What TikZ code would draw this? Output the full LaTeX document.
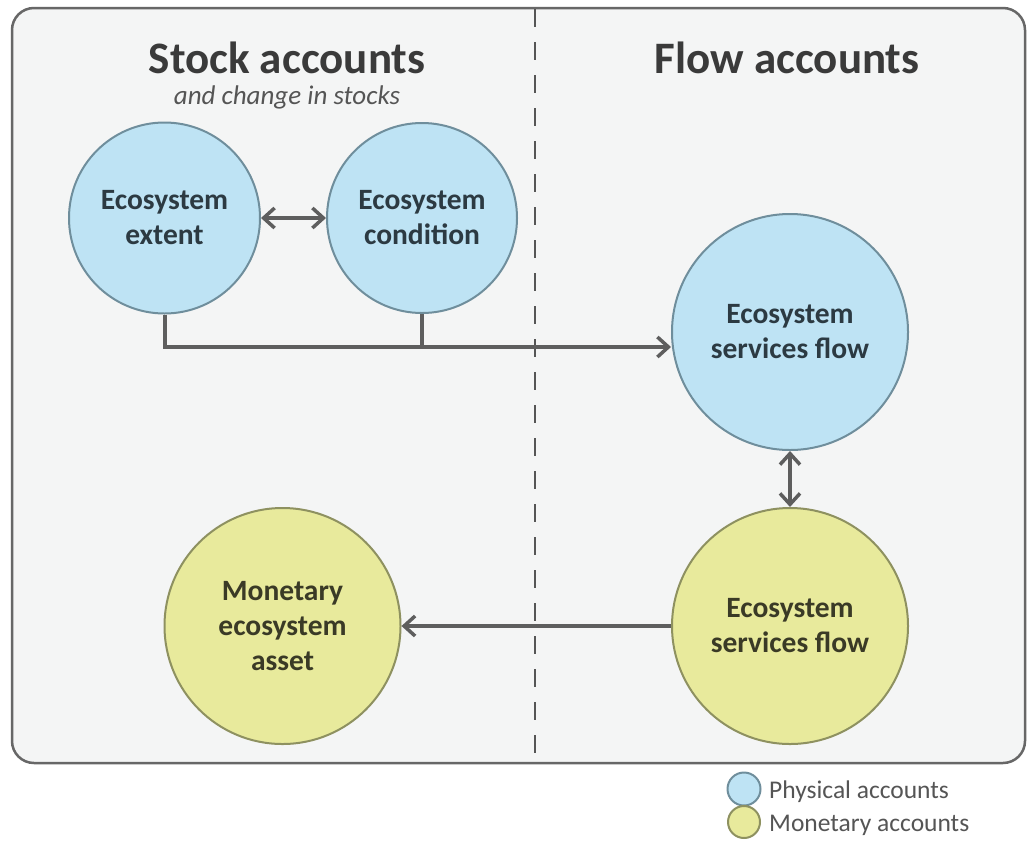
\documentclass[tikz,border=0pt]{standalone}
\usepackage{fontspec}
\setmainfont{Carlito}
\usetikzlibrary{arrows.meta}
\definecolor{boxfill}{HTML}{F4F5F5}
\definecolor{boxline}{HTML}{676767}
\definecolor{bluefill}{HTML}{BEE3F4}
\definecolor{blueline}{HTML}{6F8E9C}
\definecolor{bluetext}{HTML}{2C3A42}
\definecolor{yelfill}{HTML}{E8EA9C}
\definecolor{yelline}{HTML}{8E9160}
\definecolor{yeltext}{HTML}{3A3A26}
\definecolor{arrowcol}{HTML}{5E5E5E}
\definecolor{headcol}{HTML}{3A3A3A}
\definecolor{subcol}{HTML}{555555}
\tikzset{
  physnode/.style={circle, draw=blueline, fill=bluefill, line width=2pt, text=bluetext,
    align=center, inner sep=0pt, font=\fontsize{29.5}{35}\selectfont\bfseries},
  monnode/.style={circle, draw=yelline, fill=yelfill, line width=2pt, text=yeltext,
    align=center, inner sep=0pt, font=\fontsize{29.5}{35}\selectfont\bfseries},
  conn/.style={draw=arrowcol, line width=4pt},
  tipped/.style={conn, arrows={-Straight Barb[length=11pt,width=20pt,line width=3.5pt]}},
  bitipped/.style={conn, arrows={Straight Barb[length=11pt,width=20pt,line width=3.5pt]-Straight Barb[length=11pt,width=20pt,line width=3.5pt]}},
  divider/.style={draw=subcol, line width=2.5pt, dash pattern=on 18pt off 15pt},
  headtext/.style={text=headcol, font=\fontsize{45}{50}\selectfont\bfseries, anchor=base, inner sep=0pt},
  subtext/.style={text=subcol, font=\fontsize{27}{32}\selectfont\itshape, anchor=base, inner sep=0pt},
  legtext/.style={text=subcol, font=\fontsize{25.5}{30}\selectfont, anchor=west, inner sep=0pt},
}
\begin{document}
\begin{tikzpicture}[x=1pt, y=-1pt]
\useasboundingbox[fill=white] (0,0) rectangle (1027,849);
% frame
\draw[draw=boxline, fill=boxfill, line width=2.5pt, rounded corners=22pt] (12,8) rectangle (1025,763);
% divider
\coordinate (dtop) at (535,9);
\coordinate (dbot) at (535,763);
\draw[divider] (dtop) -- (dbot);
% headers
\node[headtext] (hstock) at (287,73) {Stock accounts};
\node[subtext] (hsub) at (287,104) {and change in stocks};
\node[headtext] (hflow) at (787,73) {Flow accounts};
% nodes
\node[physnode, minimum size=191pt] (ext) at (164.5,218) {Ecosystem\\extent};
\node[physnode, minimum size=190pt] (cond) at (422,218) {Ecosystem\\condition};
\node[physnode, minimum size=236pt] (esf) at (790,332) {Ecosystem\\services flow};
\node[monnode, minimum size=236pt] (msf) at (790,626) {Ecosystem\\services flow};
\node[monnode, minimum size=236pt] (mea) at (282.5,626) {Monetary\\ecosystem\\asset};
% connectors
\draw[bitipped] (ext.east) -- (cond.west);
\coordinate (j) at (164.5,347);
\draw[conn] (cond.south) -- (cond.south |- j);
\draw[tipped] (ext.south) -- (j) -- (esf.west |- j);
\draw[bitipped] (esf.south) -- (msf.north);
\draw[tipped] (msf.west) -- (mea.east);
% legend
\node[circle, draw=blueline, fill=bluefill, line width=2pt, minimum size=33pt, inner sep=0pt] (lphys) at (744,789) {};
\node[circle, draw=yelline, fill=yelfill, line width=2pt, minimum size=32pt, inner sep=0pt] (lmon) at (744,822) {};
\node[legtext] (tphys) at (769,792) {Physical accounts};
\node[legtext] (tmon) at (769,825) {Monetary accounts};
\end{tikzpicture}
\end{document}
